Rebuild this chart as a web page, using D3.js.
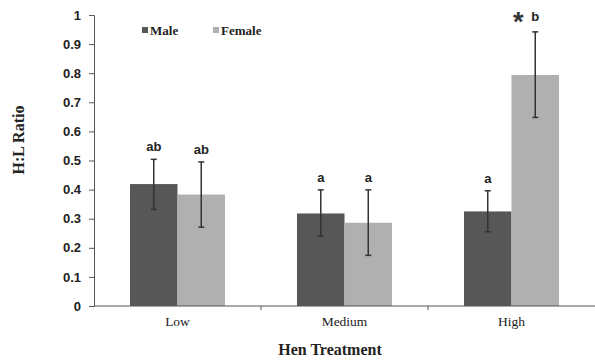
<!doctype html>
<html lang="en">
<head>
<meta charset="utf-8">
<script src="https://cdnjs.cloudflare.com/ajax/libs/d3/7.8.5/d3.min.js"></script>
<style>
  body { margin: 0; background: #fff; }
  .tick text { font: bold 13px "Liberation Sans", Arial, sans-serif; fill: #222; }
  .axis path, .axis line { stroke: #555; }
</style>
</head>
<body>
<div id="chart"></div>
<script>
// data
var treatments = ["Low", "Medium", "High"];
var series = ["Male", "Female"];
var maleMean = [0.419, 0.318, 0.325];
var maleErrLow = [0.332, 0.24, 0.255];
var maleErrHigh = [0.504, 0.399, 0.396];
var femaleMean = [0.383, 0.286, 0.794];
var femaleErrLow = [0.271, 0.174, 0.648];
var femaleErrHigh = [0.495, 0.399, 0.942];
var maleLetters = ["ab", "a", "a"];
var femaleLetters = ["ab", "a", "b"];
var yTicks = [0, 0.1, 0.2, 0.3, 0.4, 0.5, 0.6, 0.7, 0.8, 0.9, 1];

var width = 595, height = 360;
var margin = { top: 15, right: 0, bottom: 54, left: 94 };
var colors = { Male: "#575757", Female: "#b0b0b0" };

var rows = [];
treatments.forEach(function (t, i) {
    rows.push({ t: t, s: "Male", v: maleMean[i], lo: maleErrLow[i], hi: maleErrHigh[i], lab: maleLetters[i] });
    rows.push({ t: t, s: "Female", v: femaleMean[i], lo: femaleErrLow[i], hi: femaleErrHigh[i], lab: femaleLetters[i] });
});

var svg = d3.select("#chart").append("svg")
    .attr("width", width)
    .attr("height", height);

var x0 = d3.scaleBand().domain(treatments).range([margin.left, width - margin.right]).padding(0);
var x1 = d3.scaleBand().domain(series).range([x0.bandwidth() / 2 - 47.5, x0.bandwidth() / 2 + 47.5]);
var y = d3.scaleLinear().domain([0, 1]).range([height - margin.bottom, margin.top]);

// bars
var g = svg.append("g");
g.selectAll("rect.bar").data(rows).enter().append("rect")
    .attr("class", "bar")
    .attr("x", function (d) { return x0(d.t) + x1(d.s); })
    .attr("y", function (d) { return y(d.v); })
    .attr("width", x1.bandwidth())
    .attr("height", function (d) { return y(0) - y(d.v); })
    .attr("fill", function (d) { return colors[d.s]; });

// error bars
var eb = g.selectAll("g.err").data(rows).enter().append("g")
    .attr("class", "err")
    .attr("stroke", "#333")
    .attr("stroke-width", 1.5);
function cx(d) { return x0(d.t) + x1(d.s) + x1.bandwidth() / 2; }
eb.append("line")
    .attr("x1", cx).attr("x2", cx)
    .attr("y1", function (d) { return y(d.lo); })
    .attr("y2", function (d) { return y(d.hi); });
eb.append("line")
    .attr("x1", function (d) { return cx(d) - 3; }).attr("x2", function (d) { return cx(d) + 3; })
    .attr("y1", function (d) { return y(d.hi); }).attr("y2", function (d) { return y(d.hi); });
eb.append("line")
    .attr("x1", function (d) { return cx(d) - 3; }).attr("x2", function (d) { return cx(d) + 3; })
    .attr("y1", function (d) { return y(d.lo); }).attr("y2", function (d) { return y(d.lo); });

// significance letters
g.selectAll("text.sig").data(rows)
    .enter().append("text")
    .attr("class", "sig")
    .attr("x", cx)
    .attr("y", function (d) { return y(d.hi) - (d.hi > 0.9 ? 11 : 8); })
    .attr("text-anchor", "middle")
    .style("font", "bold 13px 'Liberation Sans', Arial, sans-serif")
    .attr("fill", "#222")
    .text(function (d) { return d.lab; });

// asterisk for the high female bar
var hf = rows[5];
g.append("text")
    .attr("x", cx(hf) - 17).attr("y", y(hf.hi) - 1)
    .attr("text-anchor", "middle")
    .style("font", "bold 27px 'Liberation Sans', Arial, sans-serif")
    .attr("fill", "#333")
    .text("*");

// axes
svg.append("g")
    .attr("class", "axis y")
    .attr("transform", "translate(" + margin.left + ",0)")
    .call(d3.axisLeft(y).tickValues(yTicks).tickSize(5).tickPadding(8)
        .tickFormat(function (d) { return d === 0 || d === 1 ? d3.format("d")(d) : d3.format(".1f")(d); }));

var xAxis = svg.append("g")
    .attr("class", "axis x")
    .attr("transform", "translate(0," + y(0) + ")");
xAxis.append("line")
    .attr("x1", margin.left).attr("x2", width)
    .attr("stroke", "#555");
xAxis.selectAll("line.tk").data(treatments.slice(1)).enter().append("line")
    .attr("class", "tk")
    .attr("x1", function (d) { return x0(d); }).attr("x2", function (d) { return x0(d); })
    .attr("y1", 0).attr("y2", 4)
    .attr("stroke", "#555");
xAxis.selectAll("text").data(treatments).enter().append("text")
    .attr("x", function (d) { return x0(d) + x0.bandwidth() / 2; })
    .attr("y", 20)
    .attr("text-anchor", "middle")
    .style("font", "13.5px 'Liberation Serif', 'Times New Roman', serif")
    .attr("fill", "#222")
    .text(function (d) { return d; });

// axis titles
svg.append("text")
    .attr("x", 330).attr("y", 355)
    .attr("text-anchor", "middle")
    .style("font", "bold 16px 'Liberation Serif', 'Times New Roman', serif")
    .attr("fill", "#222")
    .text("Hen Treatment");
svg.append("text")
    .attr("transform", "translate(24,140) rotate(-90)")
    .attr("text-anchor", "middle")
    .style("font", "bold 16px 'Liberation Serif', 'Times New Roman', serif")
    .attr("fill", "#222")
    .text("H:L Ratio");

// legend
var legendX = [142, 213];
var lg = svg.selectAll("g.legend").data(series).enter().append("g")
    .attr("class", "legend")
    .attr("transform", function (d, i) { return "translate(" + legendX[i] + ",30)"; });
lg.append("rect")
    .attr("x", 0).attr("y", -3).attr("width", 6).attr("height", 6)
    .attr("fill", function (d) { return colors[d]; });
lg.append("text")
    .attr("x", 8).attr("y", 4.5)
    .style("font", "bold 13px 'Liberation Serif', 'Times New Roman', serif")
    .attr("fill", "#222")
    .text(function (d) { return d; });
</script>
</body>
</html>
